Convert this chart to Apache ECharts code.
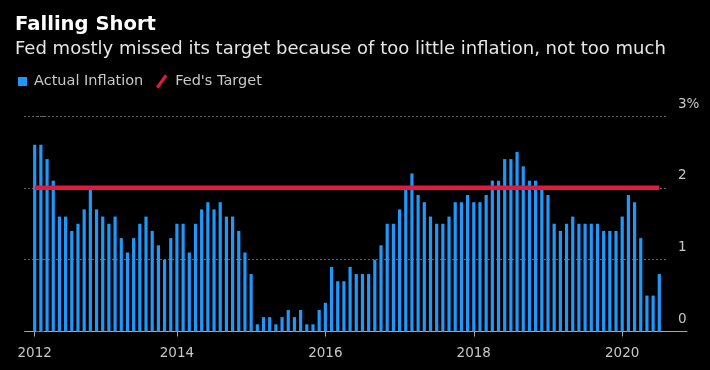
<!DOCTYPE html>
<html>
<head>
<meta charset="utf-8">
<script src="https://cdn.jsdelivr.net/npm/echarts@6/dist/echarts.min.js"></script>
<style>
html,body{margin:0;padding:0;background:#000;}
#chart{width:710px;height:370px;}
</style>
</head>
<body>
<div id="chart"></div>
<script>
// ---- data ----
const startYear = 2012;
const monthCount = 102; // Jan 2012 .. Jun 2020
const months = [];
for (let i = 0; i < monthCount; i++) {
  const y = startYear + Math.floor(i / 12);
  const m = (i % 12) + 1;
  months.push(y + '-' + (m < 10 ? '0' + m : m));
}
const actualInflation = [
  2.6,2.6,2.4,2.1,1.6,1.6,1.4,1.5,1.7,2.0,1.7,1.6,
  1.5,1.6,1.3,1.1,1.3,1.5,1.6,1.4,1.2,1.0,1.3,1.5,
  1.5,1.1,1.5,1.7,1.8,1.7,1.8,1.6,1.6,1.4,1.1,0.8,
  0.1,0.2,0.2,0.1,0.2,0.3,0.2,0.3,0.1,0.1,0.3,0.4,
  0.9,0.7,0.7,0.9,0.8,0.8,0.8,1.0,1.2,1.5,1.5,1.7,
  2.0,2.2,1.9,1.8,1.6,1.5,1.5,1.6,1.8,1.8,1.9,1.8,
  1.8,1.9,2.1,2.1,2.4,2.4,2.5,2.3,2.1,2.1,2.0,1.9,
  1.5,1.4,1.5,1.6,1.5,1.5,1.5,1.5,1.4,1.4,1.4,1.6,
  1.9,1.8,1.3,0.5,0.5,0.8
];
const fedTarget = 2;
const tickCategories = ['2012-01','2013-12','2015-12','2017-12','2019-12'];
const tickLabels = ['2012','2014','2016','2018','2020'];
const yTickLabels = ['0','1','2','3%'];

const targetSeries = months.map(() => fedTarget);
const isTick = (idx) => tickCategories.indexOf(months[idx]) >= 0;

const FONT = '"DejaVu Sans", sans-serif';
const chart = echarts.init(document.getElementById('chart'), null, {renderer: 'canvas'});
const gridTop = 116, gridBottom = 38.5;

chart.setOption({
  backgroundColor: '#000',
  animation: false,
  title: [
    {text: 'Falling Short', left: 15, top: 15, padding: 0,
     textStyle: {color: '#fff', fontSize: 19.6, fontWeight: 'bold', fontFamily: FONT}},
    {text: 'Fed mostly missed its target because of too little inflation, not too much', left: 15, top: 40, padding: 0,
     textStyle: {color: '#e6e6e6', fontSize: 18, fontWeight: 'normal', fontFamily: FONT}}
  ],
  legend: [
    {data: [{name: 'Actual Inflation', icon: 'rect'}], left: 18, top: 74, padding: 0,
     itemWidth: 9, itemHeight: 9,
     textStyle: {color: '#c8c8c8', fontSize: 14.5, fontFamily: FONT, padding: [0,0,0,2]}},
    {data: [{name: "Fed's Target", icon: 'path://M0,12 L8.5,0 L11,1.6 L2.5,13.6 Z'}], left: 156, top: 74, padding: 0,
     itemWidth: 13, itemHeight: 14,
     textStyle: {color: '#c8c8c8', fontSize: 14.5, fontFamily: FONT, padding: [0,0,0,2]}}
  ],
  grid: [
    {left: 31.6, right: 47.6, top: gridTop, bottom: gridBottom},
    {left: 24, right: 42, top: gridTop, bottom: gridBottom},
    {left: 25, right: 23, top: gridTop, bottom: gridBottom}
  ],
  xAxis: [
    {type: 'category', gridIndex: 0, data: months, boundaryGap: true,
     axisLine: {show: true, lineStyle: {color: '#a8a8a8', width: 1}},
     axisTick: {show: true, alignWithLabel: true, interval: (i) => isTick(i), length: 5,
                lineStyle: {color: '#a8a8a8'}},
     axisLabel: {show: true, interval: (i) => isTick(i), margin: 15,
                 color: '#c8c8c8', fontSize: 13.5, fontFamily: FONT,
                 formatter: (v) => tickLabels[tickCategories.indexOf(v)]},
     splitLine: {show: false}},
    {type: 'value', gridIndex: 1, show: false, min: 0, max: 1},
    {type: 'value', gridIndex: 2, min: 0, max: 1,
     axisLine: {show: true, lineStyle: {color: '#a8a8a8', width: 1}},
     axisTick: {show: false}, axisLabel: {show: false}, splitLine: {show: false}}
  ],
  yAxis: [
    {type: 'value', gridIndex: 0, min: 0, max: 3, interval: 1, show: false},
    {type: 'value', gridIndex: 1, min: 0, max: 3, interval: 1, position: 'right',
     axisLine: {show: false},
     axisTick: {show: true, length: 20, lineStyle: {color: '#666', type: [0, 12, 3, 2, 3, 10]}},
     splitLine: {show: true, lineStyle: {color: '#666', width: 1, type: [2, 2]}},
     axisLabel: {show: true, margin: 10, align: 'left', verticalAlign: 'bottom', padding: [0,0,5,0],
                 color: '#c8c8c8', fontSize: 13.5, fontFamily: FONT,
                 formatter: (v) => yTickLabels[Math.round(v)]}},
    {type: 'value', gridIndex: 2, min: 0, max: 3, show: false}
  ],
  series: [
    {name: 'Actual Inflation', type: 'bar', xAxisIndex: 0, yAxisIndex: 0,
     data: actualInflation, barWidth: 3.2, itemStyle: {color: '#1c99fa'}, z: 2},
    {name: "Fed's Target", type: 'line', xAxisIndex: 0, yAxisIndex: 0,
     data: targetSeries, symbol: 'none', lineStyle: {color: '#e5193f', width: 4.5}, itemStyle: {color: '#e5193f'}, z: 3}
  ]
});
</script>
</body>
</html>
